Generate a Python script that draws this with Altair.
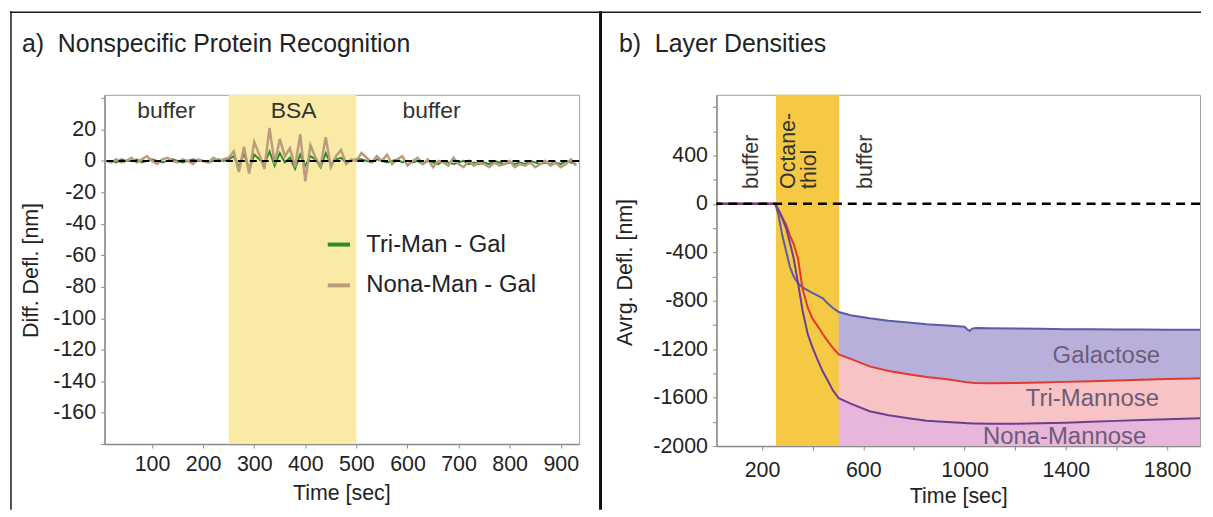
import altair as alt
import pandas as pd

FONT = "Liberation Sans"
TXT = "#222222"

# ---------------- Panel a: Nonspecific Protein Recognition ----------------
time_a = list(range(10, 940, 10))
nona_man_gal = [0, -1, 1, -1, 0, 2, -1, 1, 3, 0, -2, 1, 2, 0, -1, 1, 0, -2, 1, 0, -1, 2, 0, 1,
                2, 6, -7, 9, -8, 12, 4, -5, 21, -2, 14, 3, 8, -4, 17, -13, 10, 2, -3, 15, -4, 3, 7, -2, 1, 0,
                5, 2, -1, 3, 0, 4, -2, 1, 3, -3, 0, 2, -2, 1, -4, 0, -1, -3, 2, -2,
                -4, 0, -3, -1, -2, -4, -1, -3, -2, 0, -4, -2, -3, -1, -4, -2, 0, -3, -1, -4, -2, 1, -3]
tri_man_gal = [0, 0, -1, 1, 0, 0, 1, -1, 0, 1, 0, -1, 0, 1, 0, -1, 0, 1, 0, 0, -1, 0, 1, 0,
               1, 3, -4, 5, -6, 4, 1, -2, 6, -3, 5, -1, 2, -5, 4, -3, 3, 1, -4, 5, -2, 1, 2, -1, 0, 1,
               1, 0, -1, 1, 0, -1, 0, 1, -1, 0, -1, 0, -2, 0, -1, -2, 0, -1, -2, -1,
               0, -2, -1, -2, -1, -2, 0, -1, -2, -1, -2, -1, -2, 0, -1, -2, -1, -2, -1, -2, 0, -1, -2]
series_a = ["Tri-Man - Gal", "Nona-Man - Gal"]
colors_a = ["#2f8a2f", "#b99c7d"]
region_a_labels = ["buffer", "BSA", "buffer"]
region_a_x = [128, 377, 647]
region_a_y = [32, 32, 32]
bsa_band = [250, 500]
ya_ticks = [-180, -160, -140, -120, -100, -80, -60, -40, -20, 0, 20, 40]
xa_ticks = [100, 200, 300, 400, 500, 600, 700, 800, 900]
title_a = "a)\u00a0 Nonspecific Protein Recognition"

# ---------------- Panel b: Layer Densities ----------------
time_b = [20, 100, 200, 252, 265, 280, 295, 310, 325, 342, 360, 381, 400, 420, 440, 460, 480, 503,
          550, 625, 700, 778, 850, 932, 1000, 1010, 1020, 1030, 1045, 1100, 1200, 1300, 1400, 1500,
          1600, 1700, 1800, 1900, 1930]
galactose = [0, 0, 0, 0, -90, -260, -390, -520, -600, -655, -690, -715, -738, -758, -780, -823, -860, -893,
             -920, -945, -965, -980, -995, -1005, -1015, -1035, -1050, -1030, -1025, -1028, -1030, -1032,
             -1035, -1035, -1037, -1038, -1040, -1040, -1040]
tri_mannose = [0, 0, 0, 0, -50, -110, -170, -260, -330, -450, -700, -860, -950, -1010, -1075, -1136, -1190,
               -1243, -1280, -1342, -1380, -1407, -1430, -1449, -1470, -1473, -1475, -1478, -1480, -1482,
               -1480, -1475, -1470, -1465, -1458, -1452, -1447, -1442, -1440]
nona_mannose = [0, 0, 0, 0, -50, -120, -200, -320, -450, -650, -880, -1078, -1190, -1290, -1385, -1460,
                -1540, -1605, -1650, -1712, -1745, -1770, -1790, -1802, -1810, -1812, -1812, -1813, -1813,
                -1815, -1815, -1812, -1808, -1800, -1792, -1785, -1778, -1772, -1770]
line_colors_b = {"Galactose": "#5a5ca8", "Tri-Mannose": "#e2392e", "Nona-Mannose": "#6a3f92"}
fill_colors_b = {"Galactose": "#b8b0db", "Tri-Mannose": "#f8c3c4", "Nona-Mannose": "#e7b6da"}
curve_labels = ["Galactose", "Tri-Mannose", "Nona-Mannose"]
curve_label_x = [1560, 1505, 1395]
curve_label_y = [-1259, -1613, -1923]
region_b_labels = ["buffer", "Octane-", "thiol", "buffer"]
region_b_x = [161, 307, 389, 609]
region_b_y = [123, 123, 123, 123]
octane_band = [255, 505]
fill_start = 503
yb_ticks = [-2000, -1800, -1600, -1400, -1200, -1000, -800, -600, -400, -200, 0, 200, 400, 600, 800]
xb_ticks = [200, 400, 600, 800, 1000, 1200, 1400, 1600, 1800]
title_b = "b)\u00a0 Layer Densities"

# ---------------- build tables ----------------
df_a = pd.DataFrame({
    "t": time_a * 2,
    "v": tri_man_gal + nona_man_gal,
    "series": [series_a[0]] * len(time_a) + [series_a[1]] * len(time_a),
})
df_a_regions = pd.DataFrame({"x": region_a_x, "y": region_a_y, "label": region_a_labels})
df_b = pd.DataFrame({"t": time_b, "gal": galactose, "tri": tri_mannose, "nona": nona_mannose})
df_b_fill = df_b[df_b.t >= fill_start]
df_b_labels = pd.DataFrame({"x": curve_label_x, "y": curve_label_y, "label": curve_labels})
df_b_regions = pd.DataFrame({"x": region_b_x, "y": region_b_y, "label": region_b_labels})
one = pd.DataFrame({"k": [0]})

# ---------------- panel a ----------------
W_A, H_A = 477, 351
xa_scale = alt.Scale(domain=[7, 936], nice=False, zero=False)
ya_scale = alt.Scale(domain=[-180, 42], nice=False, zero=False)
xa_axis = alt.Axis(values=xa_ticks, tickCount=50, title="Time [sec]",
                   titleX=238, titleY=50, titleBaseline="middle", labelPadding=6, labelOverlap=False)
ya_axis = alt.Axis(values=ya_ticks, tickCount=50,
                   labelExpr="(datum.value >= -160 && datum.value <= 20) ? '' + datum.value : ''",
                   title="Diff. Defl. [nm]", titleX=-73, titleY=176, titleAngle=270,
                   titleBaseline="middle", titleAlign="center", labelPadding=5, labelOverlap=False)

band_a = alt.Chart(pd.DataFrame({"s": [bsa_band[0]], "e": [bsa_band[1]]})).mark_rect(
    color="#f9eba6").encode(
    x=alt.X("s:Q", scale=xa_scale, axis=xa_axis), x2="e:Q")

color_a = alt.Color("series:N", scale=alt.Scale(domain=series_a, range=colors_a),
                    legend=alt.Legend(orient="none", legendX=222, legendY=137, title=None,
                                      labelFontSize=24, labelFont=FONT, labelColor=TXT, labelLimit=400,
                                      symbolType="stroke", symbolStrokeWidth=4, symbolSize=500,
                                      labelOffset=14, rowPadding=15))
line_green = alt.Chart(df_a[df_a.series == series_a[0]]).mark_line(strokeWidth=2).encode(
    x=alt.X("t:Q", scale=xa_scale, axis=xa_axis), y=alt.Y("v:Q", scale=ya_scale, axis=ya_axis),
    color=color_a)
line_tan = alt.Chart(df_a[df_a.series == series_a[1]]).mark_line(strokeWidth=2.5).encode(
    x=alt.X("t:Q", scale=xa_scale, axis=xa_axis), y=alt.Y("v:Q", scale=ya_scale, axis=ya_axis),
    color=color_a)
zero_a = alt.Chart(one).mark_rule(color="black", strokeDash=[7, 5], strokeWidth=2).encode(
    y=alt.datum(0))
regions_a = alt.Chart(df_a_regions).mark_text(fontSize=23, font=FONT, color="#333333").encode(
    x="x:Q", y="y:Q", text="label:N")
title_a_mark = alt.Chart(pd.DataFrame({"label": [title_a]})).mark_text(
    fontSize=25, font=FONT, color=TXT, align="left", baseline="middle").encode(
    x=alt.value(-83), y=alt.value(-51), text="label:N")
border_left = alt.Chart(one).mark_rule(color="#1a1a1a", strokeWidth=1.5).encode(
    x=alt.value(-94), y=alt.value(-84), y2=alt.value(417))
border_top_a = alt.Chart(one).mark_rule(color="#1a1a1a", strokeWidth=1.5).encode(
    x=alt.value(-95), x2=alt.value(498), y=alt.value(-83))
divider = alt.Chart(one).mark_rule(color="#111111", strokeWidth=3).encode(
    x=alt.value(498.5), y=alt.value(-84), y2=alt.value(417))

panel_a = alt.layer(band_a, line_green, line_tan, zero_a, regions_a, title_a_mark,
                    border_left, border_top_a, divider).properties(width=W_A, height=H_A)

# ---------------- panel b ----------------
W_B, H_B = 486, 353
xb_scale = alt.Scale(domain=[20, 1930], nice=False, zero=False)
yb_scale = alt.Scale(domain=[-2000, 900], nice=False, zero=False)
xb_axis = alt.Axis(values=xb_ticks, tickCount=50,
                   labelExpr="(datum.value - 200) % 400 == 0 ? '' + datum.value : ''",
                   title="Time [sec]", titleX=243, titleY=51, titleBaseline="middle", labelPadding=10,
                   labelOverlap=False)
yb_axis = alt.Axis(values=yb_ticks, tickCount=50,
                   labelExpr="(datum.value % 400 == 0 && datum.value <= 400) ? '' + datum.value : ''",
                   title="Avrg. Defl. [nm]", titleX=-91, titleY=178, titleAngle=270,
                   titleBaseline="middle", titleAlign="center", labelPadding=5, labelOverlap=False)

band_b = alt.Chart(pd.DataFrame({"s": [octane_band[0]], "e": [octane_band[1]]})).mark_rect(
    color="#f6c945").encode(
    x=alt.X("s:Q", scale=xb_scale, axis=xb_axis), x2="e:Q")
fill_gal = alt.Chart(df_b_fill).mark_area(color=fill_colors_b["Galactose"]).encode(
    x=alt.X("t:Q", scale=xb_scale, axis=xb_axis), y=alt.Y("gal:Q", scale=yb_scale, axis=yb_axis),
    y2="tri:Q")
fill_tri = alt.Chart(df_b_fill).mark_area(color=fill_colors_b["Tri-Mannose"]).encode(
    x=alt.X("t:Q", scale=xb_scale, axis=xb_axis), y=alt.Y("tri:Q", scale=yb_scale, axis=yb_axis),
    y2="nona:Q")
fill_nona = alt.Chart(df_b_fill).mark_area(color=fill_colors_b["Nona-Mannose"]).encode(
    x=alt.X("t:Q", scale=xb_scale, axis=xb_axis), y=alt.Y("nona:Q", scale=yb_scale, axis=yb_axis),
    y2=alt.datum(-2000))
line_gal = alt.Chart(df_b).mark_line(color=line_colors_b["Galactose"], strokeWidth=2).encode(
    x=alt.X("t:Q", scale=xb_scale, axis=xb_axis), y=alt.Y("gal:Q", scale=yb_scale, axis=yb_axis))
line_tri = alt.Chart(df_b).mark_line(color=line_colors_b["Tri-Mannose"], strokeWidth=2).encode(
    x=alt.X("t:Q", scale=xb_scale, axis=xb_axis), y=alt.Y("tri:Q", scale=yb_scale, axis=yb_axis))
line_nona = alt.Chart(df_b).mark_line(color=line_colors_b["Nona-Mannose"], strokeWidth=2).encode(
    x=alt.X("t:Q", scale=xb_scale, axis=xb_axis), y=alt.Y("nona:Q", scale=yb_scale, axis=yb_axis))
zero_b = alt.Chart(one).mark_rule(color="black", strokeDash=[9, 6], strokeWidth=2.5).encode(
    y=alt.datum(0))
labels_b = alt.Chart(df_b_labels).mark_text(fontSize=24, font=FONT, color="#6c5c78").encode(
    x="x:Q", y="y:Q", text="label:N")
regions_b = alt.Chart(df_b_regions).mark_text(fontSize=21.5, font=FONT, color="#333333", angle=270,
                                             align="left", baseline="middle").encode(
    x="x:Q", y="y:Q", text="label:N")
title_b_mark = alt.Chart(pd.DataFrame({"label": [title_b]})).mark_text(
    fontSize=25, font=FONT, color=TXT, align="left", baseline="middle").encode(
    x=alt.value(-98), y=alt.value(-51), text="label:N")
border_top_b = alt.Chart(one).mark_rule(color="#1a1a1a", strokeWidth=1.5).encode(
    x=alt.value(-117), x2=alt.value(487), y=alt.value(-83))

panel_b = alt.layer(band_b, fill_gal, fill_tri, fill_nona, line_gal, line_tri, line_nona, zero_b,
                    labels_b, regions_b, title_b_mark, border_top_b).properties(width=W_B, height=H_B)

chart = alt.hconcat(panel_a, panel_b, spacing=138, bounds="flush").resolve_scale(
    color="independent").properties(padding=0).configure(font=FONT).configure_view(
    stroke="#a0a0a0", strokeWidth=1).configure_axis(
    labelFont=FONT, labelFontSize=21.5, labelColor=TXT, titleFont=FONT, titleFontSize=21.5,
    titleFontWeight="normal", titleColor=TXT, domainColor="#8c8c8c", domainWidth=1.5,
    tickColor="#8c8c8c", tickSize=4, grid=False, labelOverlap=False)

chart.save("out.html", embed_options={"renderer": "svg", "actions": False})
